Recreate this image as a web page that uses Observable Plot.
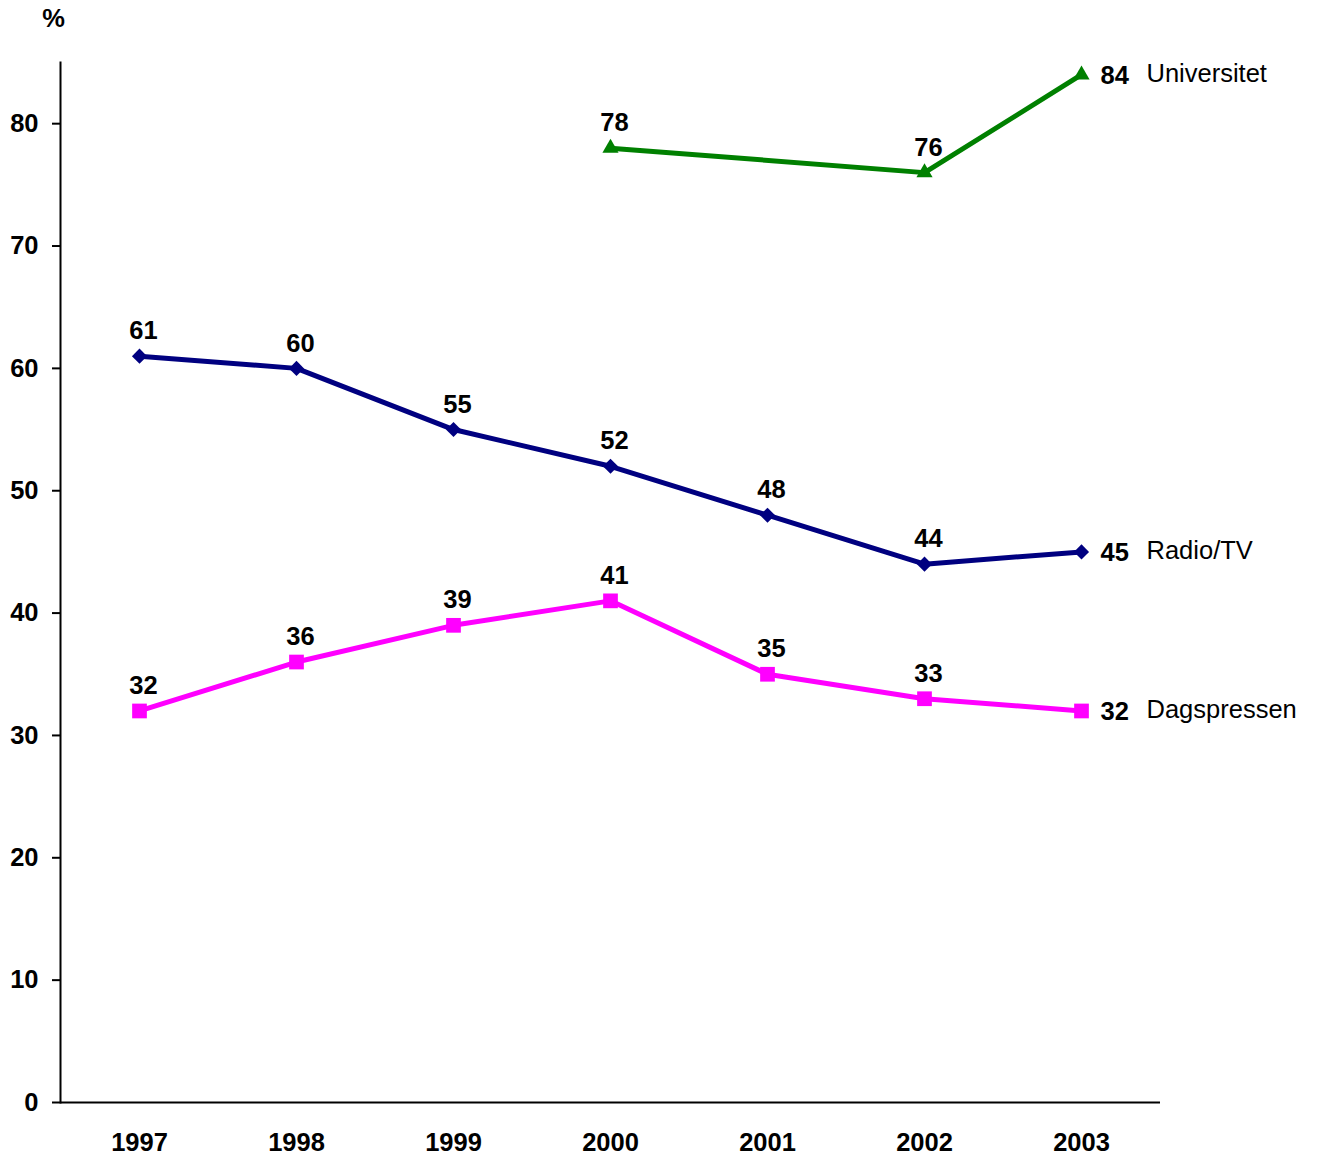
<!DOCTYPE html>
<html>
<head>
<meta charset="utf-8">
<script src="https://cdn.jsdelivr.net/npm/d3@7"></script>
<script src="https://cdn.jsdelivr.net/npm/@observablehq/plot@0.6"></script>
<style>
  html, body { margin: 0; padding: 0; background: #fff; }
</style>
</head>
<body>
<div id="chart"></div>
<script>
const years = ["1997", "1998", "1999", "2000", "2001", "2002", "2003"];
const radioTV = [61, 60, 55, 52, 48, 44, 45];
const dagspressen = [32, 36, 39, 41, 35, 33, 32];
const universitetYears = ["2000", "2002", "2003"];
const universitet = [78, 76, 84];
const seriesNames = ["Radio/TV", "Dagspressen", "Universitet"];
const seriesColors = ["#000080", "#FF00FF", "#008000"];
const yTicks = [0, 10, 20, 30, 40, 50, 60, 70, 80];

const rows = [
  ...years.map((y, i) => ({series: seriesNames[0], year: y, value: radioTV[i]})),
  ...years.map((y, i) => ({series: seriesNames[1], year: y, value: dagspressen[i]})),
  ...universitetYears.map((y, i) => ({series: seriesNames[2], year: y, value: universitet[i]}))
];
const lastYear = years[years.length - 1];
const inner = rows.filter(d => d.year !== lastYear);
const last = rows.filter(d => d.year === lastYear);
const font = "'Liberation Sans', Arial, Helvetica, sans-serif";

const plot = Plot.plot({
  width: 1317,
  height: 1158,
  marginLeft: 60,
  marginRight: 157,
  marginTop: 62,
  marginBottom: 56,
  style: {fontFamily: font, fontSize: "25.5px", fontWeight: "bold", color: "#000", background: "#fff"},
  x: {type: "point", domain: years, padding: 0.5},
  y: {domain: [0, 85]},
  color: {domain: seriesNames, range: seriesColors},
  symbol: {domain: seriesNames, range: ["diamond2", "square", "triangle"]},
  marks: [
    Plot.frame({anchor: "left", stroke: "#000", strokeWidth: 2}),
    Plot.ruleY([0], {stroke: "#000", strokeWidth: 2}),
    Plot.axisY({ticks: yTicks, tickSize: 8, tickPadding: 14, strokeWidth: 2, label: null, tickFormat: d => String(d)}),
    Plot.axisX({tickSize: 0, tickPadding: 30, label: null}),
    Plot.text(["%"], {frameAnchor: "top-left", textAnchor: "middle", lineAnchor: "middle", dx: -7, dy: -44, text: d => d, fill: "#000"}),
    Plot.line(rows, {x: "year", y: "value", z: "series", stroke: "series", strokeWidth: 5}),
    Plot.dot(rows.filter(d => d.series === seriesNames[0]), {x: "year", y: "value", symbol: "series", fill: "series", r: 6.8, stroke: null}),
    Plot.dot(rows.filter(d => d.series === seriesNames[1]), {x: "year", y: "value", symbol: "series", fill: "series", r: 8.3, stroke: null}),
    Plot.dot(rows.filter(d => d.series === seriesNames[2]), {x: "year", y: "value", symbol: "series", fill: "series", r: 6, stroke: null}),
    Plot.text(inner, {x: "year", y: "value", text: d => String(d.value), dx: 4, dy: -25, fill: "#000"}),
    Plot.text(last, {x: "year", y: "value", text: d => String(d.value), dx: 19, dy: 1, textAnchor: "start", fill: "#000"}),
    Plot.text(last, {x: "year", y: "value", text: "series", dx: 65, dy: -1, textAnchor: "start", fill: "#000", fontWeight: "normal"})
  ]
});
document.getElementById("chart").appendChild(plot);
</script>
</body>
</html>
